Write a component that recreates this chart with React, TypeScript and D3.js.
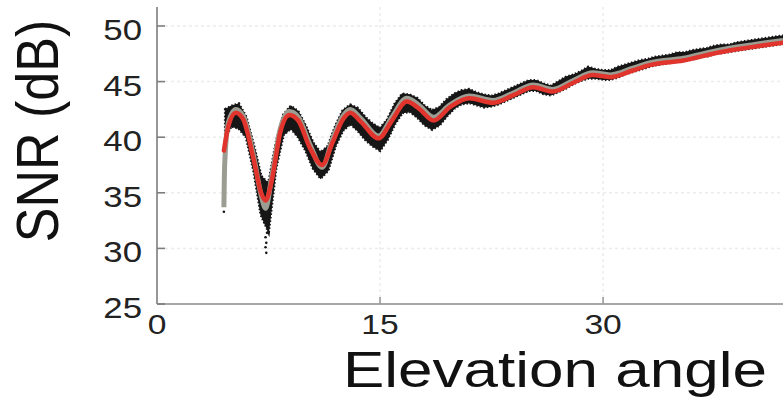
import * as React from "react";
import * as d3 from "d3";

// smoothed fit (red)
const redAngles = [4.5, 4.8, 5.3, 5.8, 6.5, 7.0, 7.3, 7.7, 8.3, 8.9, 9.5, 10.3, 11.1, 11.8, 12.5, 13.0, 13.7, 14.9, 15.8, 16.8, 17.6, 18.6, 19.7, 21.0, 22.6, 24.0, 25.3, 26.6, 28.0, 29.3, 30.5, 32.0, 33.2, 35.4, 37.7, 40.0, 42.1];
const redSNR = [38.8, 41.0, 42.2, 41.6, 38.0, 35.0, 34.3, 36.0, 40.5, 42.0, 41.5, 39.0, 37.5, 39.5, 41.6, 42.2, 41.4, 39.9, 41.5, 43.2, 42.6, 41.5, 42.7, 43.5, 43.1, 43.8, 44.5, 44.1, 44.9, 45.6, 45.4, 46.0, 46.5, 46.9, 47.6, 48.1, 48.5];

// model (gray)
const grayAngles = [4.5, 4.55, 4.8, 5.3, 5.8, 6.5, 7.0, 7.3, 7.7, 8.3, 8.9, 9.5, 10.3, 11.1, 11.8, 12.5, 13.0, 13.7, 14.9, 15.8, 16.8, 17.6, 18.6, 19.7, 21.0, 22.6, 24.0, 25.3, 26.6, 28.0, 29.3, 30.5, 32.0, 33.2, 35.4, 37.7, 40.0, 42.1];
const graySNR = [33.7, 37.5, 41.3, 42.5, 41.9, 38.3, 34.8, 33.6, 36.3, 40.8, 42.3, 41.8, 39.3, 37.3, 39.8, 41.9, 42.5, 41.7, 40.1, 41.8, 43.5, 42.9, 41.8, 42.9, 43.7, 43.3, 44.0, 44.7, 44.3, 45.1, 45.8, 45.6, 46.2, 46.7, 47.1, 47.8, 48.3, 48.7];

// raw measurements (black), upper / lower spread
const rawAngles = [4.6, 5.0, 5.5, 6.0, 6.5, 7.0, 7.5, 8.0, 8.5, 9.0, 9.5, 10.0, 10.5, 11.0, 11.5, 12.0, 12.5, 13.0, 13.5, 14.0, 14.5, 15.0, 15.5, 16.0, 16.5, 17.0, 17.5, 18.0, 18.5, 19.0, 19.5, 20.0, 20.5, 21.0, 21.5, 22.0, 22.5, 23.0, 23.5, 24.0, 24.5, 25.0, 25.5, 26.0, 26.5, 27.0, 27.5, 28.0, 28.5, 29.0, 29.5, 30.0, 30.5, 31.0, 31.5, 32.0, 32.5, 33.0, 33.5, 34.0, 34.5, 35.0, 35.5, 36.0, 36.5, 37.0, 37.5, 38.0, 38.5, 39.0, 39.5, 40.0, 40.5, 41.0, 41.5, 42.0, 42.2];
const rawHigh = [42.5, 42.8, 43.0, 41.8, 39.3, 36.5, 35.8, 39.5, 42.0, 42.8, 42.3, 41.0, 39.5, 38.6, 39.2, 41.0, 42.4, 42.9, 42.6, 41.8, 41.2, 40.8, 41.6, 43.0, 43.9, 43.8, 43.5, 42.8, 42.4, 42.7, 43.4, 43.9, 44.2, 44.3, 44.0, 43.8, 43.7, 43.9, 44.2, 44.5, 44.8, 45.1, 45.1, 44.8, 44.6, 45.0, 45.4, 45.6, 45.9, 46.3, 46.1, 46.0, 46.0, 46.3, 46.5, 46.7, 46.9, 47.0, 47.2, 47.3, 47.4, 47.6, 47.6, 47.8, 47.9, 48.0, 48.2, 48.3, 48.3, 48.5, 48.6, 48.7, 48.8, 48.9, 49.0, 49.1, 49.1];
const rawLow = [40.0, 41.0, 40.8, 40.0, 37.0, 33.0, 31.5, 37.2, 40.2, 40.8, 40.0, 38.8, 37.2, 36.3, 37.0, 39.2, 40.6, 41.2, 40.6, 39.8, 39.2, 38.8, 39.8, 41.2, 42.2, 42.3, 41.8, 41.1, 40.7, 41.1, 41.9, 42.6, 43.0, 43.1, 42.9, 42.7, 42.8, 43.0, 43.3, 43.6, 43.9, 44.2, 44.2, 43.9, 43.8, 44.1, 44.4, 44.8, 45.1, 45.3, 45.3, 45.2, 45.2, 45.4, 45.7, 45.9, 46.1, 46.3, 46.5, 46.6, 46.7, 46.8, 46.9, 47.0, 47.2, 47.3, 47.5, 47.6, 47.7, 47.8, 47.9, 48.0, 48.1, 48.2, 48.3, 48.4, 48.4];

// isolated outliers
const strayAngles = [4.5, 7.3, 7.35, 7.3, 7.35, 7.4];
const straySNR = [33.3, 31.0, 30.5, 30.1, 29.6, 31.4];

const yTicks = [25, 30, 35, 40, 45, 50];
const xTicks = [0, 15, 30];

const W = 783;
const H = 398;
const font = "'Liberation Sans', Arial, sans-serif";

const App = () => {
  const x = d3.scaleLinear().domain([0, 42.1]).range([157, 783]);
  const y = d3.scaleLinear().domain([25, 50]).range([304, 26]);
  const yTop = y(51.7);

  const line = d3
    .line<[number, number]>()
    .x(d => x(d[0]))
    .y(d => y(d[1]))
    .curve(d3.curveMonotoneX);

  const band = d3
    .area<number>()
    .x((d, i) => x(rawAngles[i]))
    .y0((d, i) => y(rawLow[i]))
    .y1(d => y(d));

  const redPts = redAngles.map((a, i) => [a, redSNR[i]] as [number, number]);
  const grayPts = grayAngles.map((a, i) => [a, graySNR[i]] as [number, number]);
  const bandPath = band(rawHigh) || "";

  return (
    <svg width={W} height={H} style={{ position: "absolute", left: 0, top: 0, background: "#fff" }}>
      {/* grid */}
      <g stroke="#ececec" strokeWidth={1.5} strokeDasharray="3,3">
        {yTicks.slice(1).map(t => (
          <line key={t} x1={x(0) + 8} x2={W} y1={y(t)} y2={y(t)} />
        ))}
        {xTicks.slice(1).map(t => (
          <line key={t} x1={x(t)} x2={x(t)} y1={y(25) - 6} y2={yTop} />
        ))}
      </g>

      {/* raw data */}
      <path d={bandPath} fill="#161616" stroke="#161616" strokeWidth={1.2} />
      <path d={bandPath} fill="none" stroke="#161616" strokeWidth={3} strokeDasharray="1.5,2" />
      {strayAngles.map((a, i) => (
        <circle key={i} cx={x(a)} cy={y(straySNR[i])} r={1.3} fill="#161616" />
      ))}

      <path d={line(grayPts) || ""} fill="none" stroke="#9c9d92" strokeWidth={5} strokeLinejoin="round" />
      <path d={line(redPts) || ""} fill="none" stroke="#e0342c" strokeWidth={4.5} strokeLinejoin="round" strokeLinecap="round" />

      {/* axes */}
      <line x1={x(0)} x2={x(0)} y1={y(25)} y2={yTop} stroke="#7d7d7d" strokeWidth={1.6} />
      <line x1={x(0)} x2={W} y1={y(25)} y2={y(25)} stroke="#a8a8a8" strokeWidth={2} />
      {yTicks.map(t => (
        <line key={t} x1={x(0)} x2={x(0) + 8} y1={y(t)} y2={y(t)} stroke="#7d7d7d" strokeWidth={1.6} />
      ))}
      {xTicks.slice(1).map(t => (
        <line key={t} x1={x(t)} x2={x(t)} y1={y(25)} y2={y(25) - 7} stroke="#9a9a9a" strokeWidth={1.6} />
      ))}

      {/* tick labels */}
      <g fontFamily={font} fontSize={29} fill="#222">
        {yTicks.map(t => (
          <text key={t} textAnchor="end" transform={`translate(142,${y(t) + 14}) scale(1.2,1)`}>
            {t}
          </text>
        ))}
        {xTicks.map(t => (
          <text key={t} textAnchor="middle" fontSize={28} transform={`translate(${x(t)},334) scale(1.2,1)`}>
            {t}
          </text>
        ))}
      </g>

      {/* axis titles */}
      <text fontFamily={font} fontSize={50} fill="#111" transform="translate(343,387) scale(1.24,1)">
        Elevation angle
      </text>
      <text
        fontFamily={font}
        fontSize={52}
        fill="#111"
        textAnchor="middle"
        transform="translate(58,131) scale(1.15,1) rotate(-90)"
      >
        SNR (dB)
      </text>
    </svg>
  );
};

export default App;
